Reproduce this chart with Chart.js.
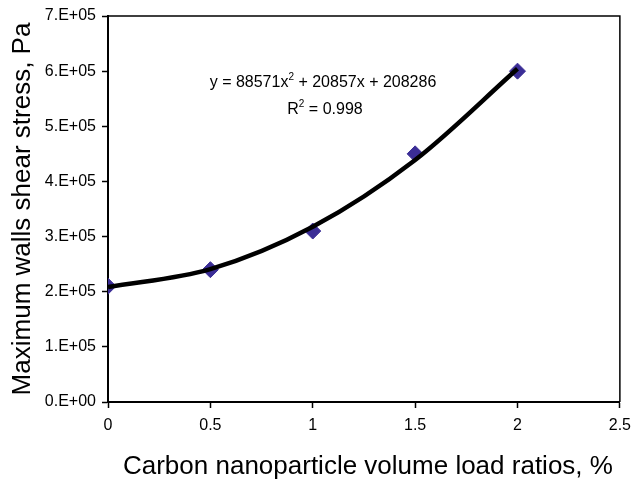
<!DOCTYPE html>
<html><head><meta charset="utf-8">
<script src="https://cdn.jsdelivr.net/npm/chart.js@4/dist/chart.umd.min.js"></script>
<style>html,body{margin:0;padding:0;background:#fff}#wrap{width:639px;height:479px}</style>
</head><body><div id="wrap"><canvas id="c" width="639" height="479"></canvas></div>
<script>
const loadRatios = [0, 0.5, 1, 1.5, 2];
const shearStress = [210000, 240000, 310000, 450000, 600000];
const trendStress = [208286, 240857, 317714, 438857, 604284];
const yTicks = [0, 100000, 200000, 300000, 400000, 500000, 600000, 700000];
const xTicks = [0, 0.5, 1, 1.5, 2, 2.5];
const eqParts = [['y = 88571x', false], ['2', true], [' + 20857x + 208286', false]];
const r2Parts = [['R', false], ['2', true], [' = 0.998', false]];
const xTitle = 'Carbon nanoparticle volume load ratios, %';
const yTitle = 'Maximum walls shear stress, Pa';

const FONT = '"Liberation Sans", Arial, sans-serif';

function drawRich(ctx, parts, cx, baseY, size) {
  const big = size + 'px ' + FONT, small = Math.round(size * 0.62) + 'px ' + FONT;
  let w = 0;
  parts.forEach(([t, sup]) => { ctx.font = sup ? small : big; w += ctx.measureText(t).width; });
  let x = cx - w / 2;
  ctx.textAlign = 'left';
  ctx.textBaseline = 'alphabetic';
  parts.forEach(([t, sup]) => {
    ctx.font = sup ? small : big;
    ctx.fillText(t, x, sup ? baseY - size * 0.42 : baseY);
    x += ctx.measureText(t).width;
  });
}

const frame = {
  id: 'frame',
  afterDraw(chart) {
    const {ctx, chartArea: a} = chart;
    ctx.save();
    ctx.strokeStyle = '#000';
    ctx.lineWidth = 1.5;
    ctx.beginPath();
    ctx.moveTo(a.left, a.top); ctx.lineTo(a.right, a.top); ctx.lineTo(a.right, a.bottom);
    ctx.stroke();
    ctx.fillStyle = '#000';
    drawRich(ctx, eqParts, 323, 87, 16);
    drawRich(ctx, r2Parts, 325, 114, 16);
    // axis titles
    ctx.font = '26px ' + FONT;
    ctx.textAlign = 'center';
    ctx.textBaseline = 'alphabetic';
    ctx.fillText(xTitle, (a.left + a.right) / 2 + 4, 474);
    ctx.translate(30, (a.top + a.bottom) / 2);
    ctx.rotate(-Math.PI / 2);
    ctx.fillText(yTitle, 0, 0);
    ctx.restore();
  }
};

new Chart(document.getElementById('c'), {
  type: 'scatter',
  data: {
    datasets: [
      {
        label: 'trend',
        data: loadRatios.map((x, i) => ({x, y: trendStress[i]})),
        showLine: true,
        borderColor: '#000',
        borderWidth: 4.5,
        pointRadius: 0,
        cubicInterpolationMode: 'monotone',
        order: 1
      },
      {
        label: 'data',
        data: loadRatios.map((x, i) => ({x, y: shearStress[i]})),
        showLine: false,
        pointStyle: 'rectRot',
        pointRadius: 8,
        backgroundColor: '#3B2D96',
        borderColor: '#3B2D96',
        borderWidth: 1,
        order: 2
      }
    ]
  },
  options: {
    responsive: false,
    animation: false,
    layout: {padding: {top: 16, right: 17, left: 0, bottom: 0}},
    plugins: {legend: {display: false}, tooltip: {enabled: false}},
    scales: {
      x: {
        type: 'linear', min: 0, max: 2.5,
        afterBuildTicks: s => { s.ticks = xTicks.map(v => ({value: v})); },
        ticks: {color: '#000', font: {family: FONT, size: 16}, padding: 8, maxRotation: 0,
                callback: v => String(v)},
        grid: {drawOnChartArea: false, drawTicks: true, tickLength: 6, tickColor: '#000', tickWidth: 1.5},
        border: {display: true, color: '#000', width: 2},
        afterFit: s => { s.height = 77; }
      },
      y: {
        type: 'linear', min: 0, max: 700000,
        afterBuildTicks: s => { s.ticks = yTicks.map(v => ({value: v})); },
        ticks: {
          color: '#000', font: {family: FONT, size: 16}, padding: 6,
          callback: v => {
            if (v === 0) return '0.E+00';
            const e = Math.floor(Math.log10(v));
            return Math.round(v / Math.pow(10, e)) + '.E+' + String(e).padStart(2, '0');
          }
        },
        grid: {drawOnChartArea: false, drawTicks: true, tickLength: 6, tickColor: '#000', tickWidth: 1.5},
        border: {display: true, color: '#000', width: 2},
        afterFit: s => { s.width = 108; }
      }
    }
  },
  plugins: [frame]
});
</script></body></html>
